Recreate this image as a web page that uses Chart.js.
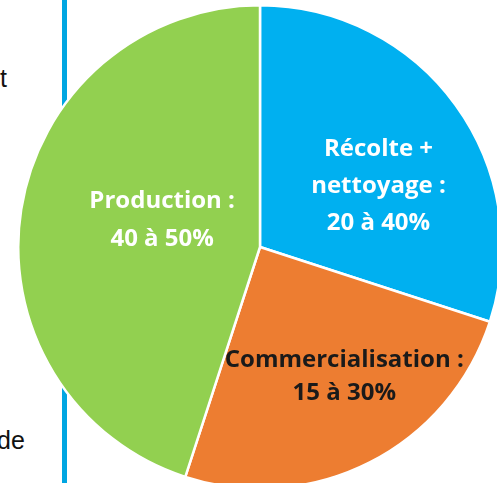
<!DOCTYPE html>
<html>
<head>
<meta charset="utf-8">
<script src="https://cdn.jsdelivr.net/npm/chart.js@4/dist/chart.umd.min.js"></script>
<style>
  html, body { margin: 0; padding: 0; background: #fff; overflow: hidden; }
  body { width: 497px; height: 483px; position: relative; }
  .bar { position: absolute; left: 62px; top: 0; width: 5px; height: 483px; background: #00A6E2; }
  .side { position: absolute; font-family: "Liberation Sans", Arial, sans-serif; font-size: 25px; color: #111; }
  #wrap { position: absolute; left: 17px; top: 4px; width: 486px; height: 486px; }
</style>
</head>
<body>
<div class="bar"></div>
<div class="side" style="left:0px; top:64px;">t</div>
<div class="side" style="left:-3px; top:426px;">de</div>
<div id="wrap"><canvas id="pie"></canvas></div>
<script>
const labels = ['Récolte + nettoyage', 'Commercialisation', 'Production'];
const values = [30, 25, 45];
const colors = ['#00B0F0', '#ED7D31', '#92D050'];
const textLines = [
  ['Récolte +', 'nettoyage :', '20 à 40%'],
  ['Commercialisation :', '15 à 30%'],
  ['Production :', '40 à 50%']
];
const textColors = ['#ffffff', '#1a1a1a', '#ffffff'];

// label centre, as [angle in degrees from 3 o'clock, fraction of radius, line height]
const labelSpots = [[-27, 0.55, 37], [57, 0.64, 33], [195.5, 0.42, 38]];

const sliceLabels = {
  id: 'sliceLabels',
  afterDatasetsDraw(chart) {
    const c = chart.ctx;
    const meta = chart.getDatasetMeta(0);
    c.save();
    c.font = 'bold 24px "Open Sans", Lato, sans-serif';
    c.textAlign = 'center';
    c.textBaseline = 'middle';
    meta.data.forEach((arc, i) => {
      const a = labelSpots[i][0] * Math.PI / 180;
      const r = arc.outerRadius * labelSpots[i][1];
      const x = arc.x + Math.cos(a) * r;
      const y = arc.y + Math.sin(a) * r;
      const lines = textLines[i];
      const lh = labelSpots[i][2];
      c.fillStyle = textColors[i];
      lines.forEach((t, j) => {
        c.fillText(t, x, y + (j - (lines.length - 1) / 2) * lh);
      });
    });
    c.restore();
  }
};

new Chart(document.getElementById('pie'), {
  type: 'pie',
  data: {
    labels: labels,
    datasets: [{
      data: values,
      backgroundColor: colors,
      borderColor: '#ffffff',
      borderWidth: 2.5
    }]
  },
  options: {
    responsive: true,
    maintainAspectRatio: false,
    animation: false,
    layout: { padding: 0 },
    plugins: {
      legend: { display: false },
      tooltip: { enabled: false }
    }
  },
  plugins: [sliceLabels]
});
</script>
</body>
</html>
